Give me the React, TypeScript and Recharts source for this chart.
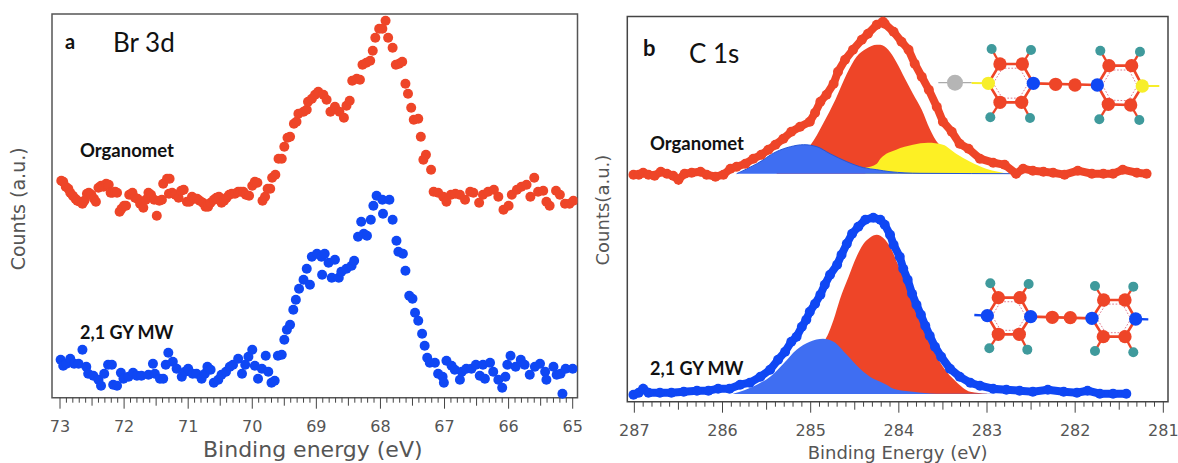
import { Area, ComposedChart, ReferenceArea, Scatter, XAxis, YAxis } from 'recharts';

// [binding energy in eV, counts in a.u.]
const brOrganomet = [
  [72.98, 217], [72.95, 216], [72.91, 211], [72.87, 209], [72.84, 205], [72.8, 202], [72.76, 199], [72.73, 197],
  [72.69, 196], [72.65, 194], [72.62, 197], [72.58, 204], [72.55, 205], [72.51, 203], [72.47, 199], [72.44, 196],
  [72.4, 210], [72.36, 212], [72.32, 211], [72.28, 214], [72.24, 213], [72.21, 205], [72.18, 205], [72.14, 206],
  [72.11, 205], [72.07, 186], [72.04, 189], [72.0, 192], [71.97, 192], [71.92, 203], [71.87, 205], [71.83, 200],
  [71.79, 199], [71.75, 194], [71.7, 190], [71.66, 198], [71.62, 205], [71.58, 203], [71.53, 198], [71.49, 182],
  [71.45, 197], [71.41, 198], [71.39, 214], [71.33, 219], [71.29, 219], [71.3, 204], [71.25, 205], [71.2, 203],
  [71.15, 200], [71.11, 207], [71.07, 208], [71.02, 196], [70.98, 196], [70.94, 201], [70.9, 199], [70.86, 199],
  [70.82, 197], [70.77, 195], [70.73, 191], [70.69, 191], [70.65, 195], [70.6, 198], [70.56, 200], [70.52, 201],
  [70.48, 195], [70.44, 197], [70.4, 200], [70.36, 203], [70.32, 204], [70.27, 204], [70.22, 206], [70.18, 206],
  [70.14, 206], [70.1, 203], [70.05, 202], [70.0, 212], [69.96, 216], [69.92, 215], [69.84, 197], [69.8, 201],
  [69.76, 209], [69.72, 209], [69.69, 220], [69.64, 223], [69.59, 239], [69.54, 239], [69.5, 251], [69.45, 260],
  [69.41, 261], [69.35, 274], [69.31, 276], [69.28, 284], [69.2, 286], [69.15, 288], [69.13, 296], [69.07, 299],
  [69.02, 303], [68.97, 306], [68.89, 303], [68.84, 298], [68.78, 286], [68.71, 291], [68.64, 286], [68.57, 280],
  [68.53, 292], [68.48, 297], [68.44, 317], [68.37, 319], [68.32, 318], [68.28, 333], [68.22, 335], [68.16, 337],
  [68.12, 347], [68.08, 360], [68.02, 369], [67.97, 369], [67.92, 377], [67.88, 360], [67.81, 350], [67.76, 333],
  [67.71, 334], [67.66, 336], [67.61, 314], [67.57, 304], [67.52, 290], [67.48, 278], [67.41, 279], [67.37, 261],
  [67.29, 243], [67.33, 238], [67.21, 228], [67.17, 206], [67.1, 205], [67.02, 201], [66.97, 196], [66.9, 203],
  [66.83, 204], [66.76, 203], [66.68, 198], [66.6, 206], [66.55, 205], [66.46, 195], [66.4, 203], [66.32, 206],
  [66.23, 208], [66.16, 201], [66.08, 188], [66.0, 192], [65.95, 203], [65.87, 208], [65.8, 211], [65.72, 213],
  [65.66, 201], [65.6, 220], [65.54, 206], [65.46, 207], [65.41, 196], [65.36, 192], [65.26, 207], [65.2, 203],
  [65.12, 194], [65.05, 194], [64.99, 197],
];

const brMw = [
  [72.99, 38], [72.95, 32], [72.9, 34], [72.84, 39], [72.78, 34], [72.71, 34], [72.65, 48], [72.59, 31],
  [72.56, 24], [72.48, 22], [72.4, 18], [72.36, 12], [72.31, 24], [72.25, 33], [72.19, 33], [72.17, 13],
  [72.11, 12], [72.05, 25], [72.01, 19], [71.93, 21], [71.86, 25], [71.8, 22], [71.73, 22], [71.62, 23],
  [71.55, 34], [71.52, 24], [71.44, 19], [71.39, 19], [71.35, 33], [71.31, 45], [71.24, 36], [71.18, 29],
  [71.1, 21], [71.05, 26], [71.0, 29], [70.93, 24], [70.87, 24], [70.79, 19], [70.74, 24], [70.7, 31],
  [70.65, 28], [70.6, 15], [70.53, 18], [70.48, 23], [70.41, 26], [70.35, 31], [70.3, 33], [70.22, 39],
  [70.16, 24], [70.11, 33], [70.06, 41], [70.0, 48], [69.96, 32], [69.91, 19], [69.85, 29], [69.79, 42],
  [69.75, 26], [69.7, 15], [69.65, 17], [69.6, 42], [69.54, 43], [69.5, 58], [69.46, 68], [69.41, 73],
  [69.36, 88], [69.32, 98], [69.27, 109], [69.2, 118], [69.15, 129], [69.1, 113], [69.07, 141], [68.99, 144],
  [68.92, 141], [68.87, 144], [68.91, 123], [68.81, 135], [68.76, 120], [68.71, 138], [68.65, 120], [68.61, 126],
  [68.53, 129], [68.45, 132], [68.41, 137], [68.35, 161], [68.26, 164], [68.21, 162], [68.3, 176], [68.15, 178],
  [68.11, 192], [68.06, 202], [67.96, 184], [67.97, 198], [67.86, 198], [67.81, 178], [67.75, 157], [67.72, 146],
  [67.65, 144], [67.61, 127], [67.55, 102], [67.5, 99], [67.46, 85], [67.41, 77], [67.35, 64], [67.31, 52],
  [67.27, 40], [67.23, 35], [67.15, 35], [67.1, 24], [67.03, 21], [67.01, 15], [66.97, 37], [66.89, 32],
  [66.84, 28], [66.76, 18], [66.73, 26], [66.66, 29], [66.58, 29], [66.51, 33], [66.45, 22], [66.37, 19],
  [66.4, 33], [66.29, 35], [66.24, 26], [66.16, 18], [66.1, 10], [66.05, 21], [66.02, 33], [65.97, 42],
  [65.89, 31], [65.81, 38], [65.75, 33], [65.67, 23], [65.59, 31], [65.51, 34], [65.43, 26], [65.41, 18],
  [65.3, 31], [65.25, 23], [65.19, 24], [65.16, 4], [65.11, 29], [65.0, 29],
];

const cOrganomet = [
  [287.01, 227], [286.95, 227], [286.9, 229], [286.84, 227], [286.77, 226], [286.7, 230], [286.63, 228], [286.56, 226],
  [286.5, 222], [286.43, 228], [286.35, 229], [286.25, 230], [286.18, 227], [286.08, 225], [285.99, 227], [285.91, 233],
  [285.84, 235], [285.74, 238], [285.65, 243], [285.56, 247], [285.48, 252], [285.4, 257], [285.31, 263], [285.22, 270],
  [285.12, 275], [285.01, 280], [284.95, 289], [284.89, 300], [284.82, 307], [284.74, 318], [284.69, 330], [284.61, 342],
  [284.52, 352], [284.42, 362], [284.35, 368], [284.25, 377], [284.18, 380], [284.16, 378], [284.06, 370], [283.97, 360],
  [283.89, 352], [283.82, 338], [283.74, 325], [283.66, 312], [283.57, 295], [283.5, 280], [283.4, 270], [283.31, 258],
  [283.21, 253], [283.08, 243], [282.93, 239], [282.8, 237], [282.67, 228], [282.59, 233], [282.48, 231], [282.36, 230],
  [282.25, 229], [282.12, 227], [281.97, 231], [281.81, 228], [281.68, 228], [281.57, 228], [281.46, 232], [281.3, 229],
  [281.19, 228],
];

const cMw = [
  [287.01, 7], [286.95, 9], [286.9, 13], [286.84, 9], [286.71, 9], [286.58, 9], [286.44, 10], [286.29, 11],
  [286.16, 11], [286.05, 13], [285.92, 13], [285.8, 17], [285.69, 19], [285.57, 25], [285.46, 32], [285.37, 42],
  [285.29, 50], [285.22, 60], [285.16, 65], [285.1, 75], [285.05, 82], [285.01, 90], [284.95, 98], [284.89, 107],
  [284.84, 117], [284.78, 127], [284.7, 137], [284.65, 147], [284.59, 158], [284.53, 168], [284.46, 175], [284.38, 182],
  [284.29, 184], [284.21, 182], [284.16, 177], [284.1, 167], [284.06, 157], [283.99, 145], [283.95, 133], [283.9, 122],
  [283.85, 108], [283.8, 97], [283.75, 87], [283.7, 76], [283.65, 66], [283.59, 55], [283.52, 45], [283.42, 33],
  [283.31, 25], [283.19, 19], [283.08, 16], [282.93, 13], [282.78, 12], [282.63, 11], [282.48, 10], [282.31, 12],
  [282.13, 10], [281.98, 9], [281.86, 11], [281.72, 8], [281.57, 8], [281.42, 8],
];

// fitted peaks, upper panel
const organometBlue = [
  [285.84, 228], [285.61, 238], [285.39, 250], [285.23, 255], [285.08, 257], [284.93, 255], [284.78, 248], [284.59, 240],
  [284.4, 234], [284.25, 232], [284.1, 230], [283.76, 228.4], [282.59, 228],
];
const organometRed = [
  [285.39, 228], [285.23, 241], [285.08, 250], [285.0, 257], [284.86, 278], [284.72, 302], [284.59, 328], [284.48, 345],
  [284.37, 353], [284.25, 357], [284.21, 357], [284.12, 352], [284.03, 340], [283.93, 323], [283.84, 308], [283.74, 292],
  [283.65, 273], [283.55, 258], [283.5, 255], [283.4, 242], [283.27, 232], [283.08, 228],
];
const organometYellow = [
  [284.38, 234], [284.25, 238], [284.21, 243], [284.03, 252], [283.84, 257], [283.67, 259], [283.5, 257], [283.35, 248],
  [283.19, 240], [283.01, 233], [282.74, 228],
];

// fitted peaks, lower panel
const mwBlue = [
  [285.88, 8], [285.61, 17], [285.46, 25], [285.31, 38], [285.16, 52], [285.01, 60], [284.86, 63], [284.74, 60],
  [284.59, 47], [284.44, 33], [284.29, 23], [284.21, 20], [284.14, 17], [284.06, 13], [283.84, 10], [283.57, 8], [282.7, 8],
];
const mwRed = [
  [285.3, 8], [285.15, 20], [285.0, 42], [284.9, 58], [284.83, 63], [284.74, 82], [284.67, 102], [284.57, 125],
  [284.48, 145], [284.4, 158], [284.33, 164], [284.25, 167], [284.21, 166], [284.1, 155], [283.99, 133], [283.89, 113],
  [283.8, 92], [283.72, 73], [283.61, 52], [283.5, 35], [283.35, 20], [283.19, 10], [283.0, 8],
];

const ORGANOMET_BASE = 228;
const MW_BASE = 7.7;

const RED = '#ee4528';
const BLUE = '#0f47f4';
const FILL_BLUE = '#3f6ef2';
const YELLOW = '#fdf024';
const TEXT_GREY = '#555';

const pts = (rows: number[][]) => rows.map(([e, c]) => ({ e, c }));

const tenths = (from: number, to: number) => {
  const out: number[] = [];
  for (let i = from * 10; i <= to * 10; i++) out.push(i / 10);
  return out;
};

const EnergyTick = ({ x, y, payload }: any) => {
  const tenth = Math.round(payload.value * 10);
  const major = tenth % 10 === 0;
  const len = major ? 11 : tenth % 5 === 0 ? 8 : 5;
  return (
    <g>
      <line x1={x} x2={x} y1={y} y2={y + len} stroke="#444" strokeWidth={1} />
      {major && (
        <text x={x} y={y + 34} textAnchor="middle" fontFamily="DejaVu Sans" fontSize={16} fill={TEXT_GREY}>
          {payload.value}
        </text>
      )}
    </g>
  );
};

const Dot = (r: number, fill: string) => (p: any) => <circle cx={p.cx} cy={p.cy} r={r} fill={fill} />;

// Ball-and-stick insets, in 1/3 px units
const H = '#3f9a9c';
const C = '#ee4528';
const N = '#0f47f4';
const S = '#f7ee2a';

const Ring = ({ a, b, c, d, l, r, lc, rc }: any) => {
  const cx = (l[0] + r[0]) / 2;
  const cy = (l[1] + r[1]) / 2;
  const corners = [l, a, b, r, d, c];
  return (
    <g>
      <polygon points={corners.map((q: number[]) => q.join(',')).join(' ')} fill="none" stroke={C} strokeWidth={8} />
      <polygon
        points={corners.map((q: number[]) => `${cx + (q[0] - cx) * 0.78},${cy + (q[1] - cy) * 0.78}`).join(' ')}
        fill="none"
        stroke="#d9607a"
        strokeWidth={2.5}
        strokeDasharray="5 5"
      />
      <circle cx={l[0]} cy={l[1]} r={20} fill={lc} />
      <circle cx={r[0]} cy={r[1]} r={20} fill={rc} />
      {[a, b, c, d].map((q: number[], i: number) => (
        <circle key={i} cx={q[0]} cy={q[1]} r={20} fill={C} />
      ))}
    </g>
  );
};

const Hs = ({ bonds }: { bonds: number[][] }) => (
  <g>
    {bonds.map(([x1, y1, x2, y2], i) => (
      <g key={i}>
        <line x1={x1} y1={y1} x2={x2} y2={y2} stroke={C} strokeWidth={7} />
        <circle cx={x2} cy={y2} r={15} fill={H} />
      </g>
    ))}
  </g>
);

const TopMolecule = () => (
  <g transform="translate(880 0) scale(0.3333)">
    <line x1={175} y1={248} x2={275} y2={248} stroke="#aaa" strokeWidth={4} />
    <line x1={275} y1={249} x2={325} y2={250} stroke={S} strokeWidth={6} />
    <line x1={787} y1={258} x2={838} y2={258} stroke={S} strokeWidth={6} />
    <circle cx={225} cy={248} r={24} fill="#b5b5b5" />
    <line x1={460} y1={250} x2={652} y2={255} stroke={C} strokeWidth={8} />
    <Hs bonds={[[360, 192, 335, 147], [427, 192, 453, 150], [360, 307, 331, 352], [425, 307, 450, 354], [687, 197, 661, 152], [755, 197, 780, 155], [685, 313, 658, 358], [752, 315, 778, 360]]} />
    <Ring a={[360, 192]} b={[427, 192]} c={[360, 307]} d={[425, 307]} l={[325, 250]} r={[460, 250]} lc={S} rc={N} />
    <Ring a={[687, 197]} b={[755, 197]} c={[685, 313]} d={[752, 315]} l={[652, 255]} r={[787, 258]} lc={N} rc={S} />
    <circle cx={527} cy={253} r={20} fill={C} />
    <circle cx={585} cy={255} r={20} fill={C} />
  </g>
);

const BottomMolecule = () => (
  <g transform="translate(880 200) scale(0.3333)">
    <line x1={283} y1={345} x2={322} y2={347} stroke={N} strokeWidth={7} />
    <line x1={767} y1={357} x2={805} y2={358} stroke={N} strokeWidth={7} />
    <line x1={452} y1={350} x2={636} y2={355} stroke={C} strokeWidth={8} />
    <Hs bonds={[[355, 293, 331, 250], [420, 293, 446, 252], [355, 403, 328, 445], [418, 403, 442, 449], [671, 300, 645, 258], [735, 300, 760, 260], [670, 410, 645, 453], [735, 410, 760, 457]]} />
    <Ring a={[355, 293]} b={[420, 293]} c={[355, 403]} d={[418, 403]} l={[322, 347]} r={[452, 350]} lc={N} rc={N} />
    <Ring a={[671, 300]} b={[735, 300]} c={[670, 410]} d={[735, 410]} l={[636, 355]} r={[767, 357]} lc={N} rc={N} />
    <circle cx={517} cy={352} r={20} fill={C} />
    <circle cx={571} cy={353} r={20} fill={C} />
  </g>
);

const Note = ({ x, y, size, bold, children }: any) => (
  <text x={x} y={y} fontFamily="Lato" fontSize={size} fontWeight={bold ? 700 : 400} fill="#111">
    {children}
  </text>
);

export default function App() {
  return (
    <div style={{ position: 'absolute', left: 0, top: 0, width: 1178, height: 463, overflow: 'hidden', background: '#fff' }}>
      <div style={{ position: 'absolute', left: 0, top: 0 }}>
        <ComposedChart width={590} height={463} margin={{ top: 14, right: 12.5, bottom: 0, left: 0 }}>
          <XAxis
            dataKey="e"
            type="number"
            reversed
            domain={[64.925, 73.125]}
            ticks={tenths(65, 73)}
            interval={0}
            axisLine={false}
            tickLine={false}
            tick={<EnergyTick />}
            tickSize={0}
            tickMargin={0}
            height={65.3}
            allowDataOverflow
            label={{ value: 'Binding energy (eV)', position: 'insideBottom', offset: 6, dx: -2, fontFamily: 'DejaVu Sans', fontSize: 22, fill: TEXT_GREY }}
          />
          <YAxis
            dataKey="c"
            type="number"
            domain={[0, 383.7]}
            width={52}
            axisLine={false}
            tick={false}
            tickLine={false}
            label={{ value: 'Counts (a.u.)', angle: -90, position: 'insideLeft', dx: 13, dy: 3, textAnchor: 'middle', fontFamily: 'DejaVu Sans', fontSize: 19, fill: TEXT_GREY }}
          />
          <ReferenceArea x1={64.925} x2={73.125} y1={0} y2={383.7} fill="none" stroke="#555" strokeWidth={1.5} ifOverflow="visible" />
          <Scatter data={pts(brOrganomet)} isAnimationActive={false} shape={Dot(5, RED)} />
          <Scatter data={pts(brMw)} isAnimationActive={false} shape={Dot(5, BLUE)} />
        </ComposedChart>
      </div>

      <div style={{ position: 'absolute', left: 590, top: 0 }}>
        <ComposedChart width={588} height={463} margin={{ top: 16.5, right: 10, bottom: 0, left: 0 }}>
          <XAxis
            dataKey="e"
            type="number"
            reversed
            domain={[280.947, 287.08]}
            ticks={tenths(281, 287)}
            interval={0}
            axisLine={false}
            tickLine={false}
            tick={<EnergyTick />}
            tickSize={0}
            tickMargin={0}
            height={61.3}
            allowDataOverflow
            label={{ value: 'Binding Energy (eV)', position: 'insideBottom', offset: 4, fontFamily: 'DejaVu Sans', fontSize: 18, fill: TEXT_GREY }}
          />
          <YAxis
            dataKey="c"
            type="number"
            domain={[0, 385.2]}
            width={37.3}
            axisLine={false}
            tick={false}
            tickLine={false}
            label={{ value: 'Counts(a.u.)', angle: -90, position: 'insideLeft', dx: 8, dy: 1, textAnchor: 'middle', fontFamily: 'DejaVu Sans', fontSize: 18, fill: TEXT_GREY }}
          />
          <ReferenceArea x1={280.947} x2={287.08} y1={0} y2={385.2} fill="none" stroke="#444" strokeWidth={1.5} ifOverflow="visible" />
          <Area data={pts(organometRed)} dataKey="c" baseValue={ORGANOMET_BASE} type="monotone" fill={RED} fillOpacity={1} stroke="none" dot={false} activeDot={false} isAnimationActive={false} />
          <Area data={pts(organometYellow)} dataKey="c" baseValue={ORGANOMET_BASE} type="monotone" fill={YELLOW} fillOpacity={1} stroke="none" dot={false} activeDot={false} isAnimationActive={false} />
          <Area data={pts(organometBlue)} dataKey="c" baseValue={ORGANOMET_BASE} type="monotone" fill={FILL_BLUE} fillOpacity={1} stroke="#2456d8" strokeWidth={1} dot={false} activeDot={false} isAnimationActive={false} />
          <Area data={pts(mwRed)} dataKey="c" baseValue={MW_BASE} type="monotone" fill={RED} fillOpacity={1} stroke="none" dot={false} activeDot={false} isAnimationActive={false} />
          <Area data={pts(mwBlue)} dataKey="c" baseValue={MW_BASE} type="monotone" fill={FILL_BLUE} fillOpacity={1} stroke="none" dot={false} activeDot={false} isAnimationActive={false} />
          <Scatter data={pts(cOrganomet)} line={{ stroke: RED, strokeWidth: 8 }} isAnimationActive={false} shape={Dot(5, RED)} />
          <Scatter data={pts(cMw)} line={{ stroke: BLUE, strokeWidth: 8 }} isAnimationActive={false} shape={Dot(5, BLUE)} />
        </ComposedChart>
      </div>

      <svg width={1178} height={463} style={{ position: 'absolute', left: 0, top: 0 }}>
        <Note x={65} y={49} size={20} bold>a</Note>
        <Note x={113} y={52} size={26}>Br 3d</Note>
        <Note x={80} y={157} size={18.5} bold>Organomet</Note>
        <Note x={80} y={339} size={18} bold>2,1 GY MW</Note>
        <Note x={643} y={56} size={22} bold>b</Note>
        <Note x={689} y={63} size={26}>C 1s</Note>
        <Note x={650} y={150} size={18.5} bold>Organomet</Note>
        <Note x={650} y={375} size={18} bold>2,1 GY MW</Note>
        <TopMolecule />
        <BottomMolecule />
      </svg>
    </div>
  );
}
